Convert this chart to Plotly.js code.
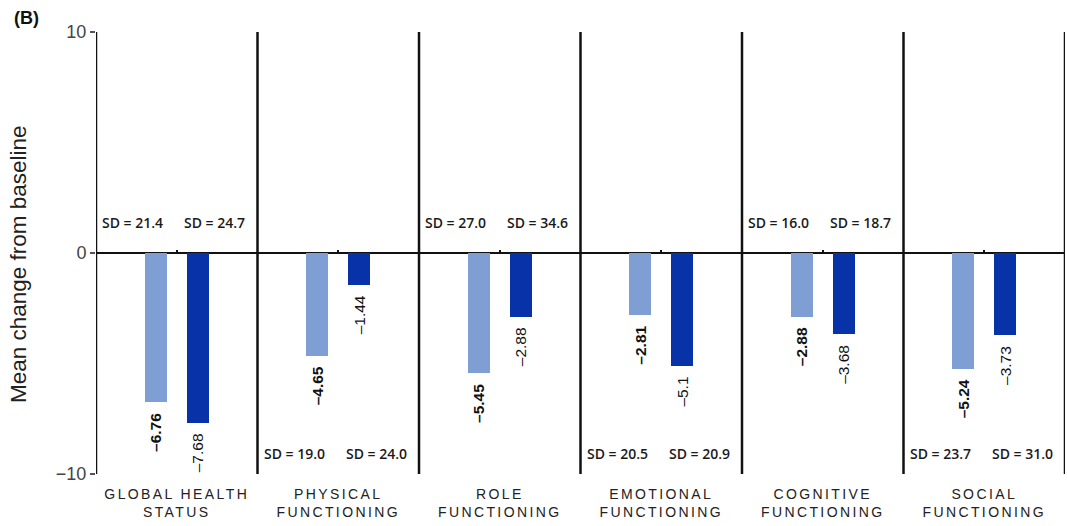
<!DOCTYPE html>
<html>
<head>
<meta charset="utf-8">
<script src="https://cdn.plot.ly/plotly-3.0.1.min.js"></script>
<style>
  html, body { margin: 0; padding: 0; background: #fff; }
  #chart { width: 1068px; height: 526px; }
  .xtick text { letter-spacing: 2.4px; }
</style>
</head>
<body>
<div id="chart"></div>
<script>
// QLQ-C30 domains: mean change from baseline for two treatment groups
const domains = [
  "GLOBAL HEALTH STATUS",
  "PHYSICAL FUNCTIONING",
  "ROLE FUNCTIONING",
  "EMOTIONAL FUNCTIONING",
  "COGNITIVE FUNCTIONING",
  "SOCIAL FUNCTIONING"
];
const domainLabels = [
  "GLOBAL HEALTH<br>STATUS",
  "PHYSICAL<br>FUNCTIONING",
  "ROLE<br>FUNCTIONING",
  "EMOTIONAL<br>FUNCTIONING",
  "COGNITIVE<br>FUNCTIONING",
  "SOCIAL<br>FUNCTIONING"
];
const meanLight = [-6.76, -4.65, -5.45, -2.81, -2.88, -5.24];
const meanDark  = [-7.68, -1.44, -2.88, -5.1, -3.68, -3.73];
const sdLight = [21.4, 19.0, 27.0, 20.5, 16.0, 23.7];
const sdDark  = [24.7, 24.0, 34.6, 20.9, 18.7, 31.0];
const yTicks = [10, 0, -10];

// value label: en dash for minus, trailing en space keeps it clear of the bar end
const fmt = v => String(v).replace("-", "\u2013") + "\u2002";
const FONT = "Liberation Sans, Arial, sans-serif";
const SD_FONT = "Open Sans, Liberation Sans, sans-serif";
const BAR_W = 0.136;
const HALF_SEP = 0.13;

const lightTrace = {
  type: "bar",
  x: domains,
  y: meanLight,
  width: BAR_W,
  offset: -HALF_SEP - BAR_W / 2,
  marker: { color: "#7f9fd4" },
  text: meanLight.map(fmt),
  textposition: "outside",
  textangle: -90,
  constraintext: "none",
  cliponaxis: false,
  textfont: { family: FONT, size: 15.5, color: "#111", weight: "bold" },
  hoverinfo: "skip",
  showlegend: false
};
const darkTrace = {
  type: "bar",
  x: domains,
  y: meanDark,
  width: BAR_W,
  offset: HALF_SEP - BAR_W / 2,
  marker: { color: "#0832a8" },
  text: meanDark.map(fmt),
  textposition: "outside",
  textangle: -90,
  constraintext: "none",
  cliponaxis: false,
  textfont: { family: FONT, size: 15.5, color: "#111" },
  hoverinfo: "skip",
  showlegend: false
};

// Panel separators between domains
const shapes = [];
for (let i = 0; i <= domains.length; i++) {
  shapes.push({
    type: "line", xref: "x", yref: "paper",
    x0: i - 0.5, x1: i - 0.5, y0: 0, y1: 1,
    line: { color: "#111", width: 2.5 }
  });
}

// SD labels: alternate above the zero line and near the bottom
const annotations = [];
domains.forEach((d, i) => {
  const yPos = i % 2 === 0 ? 1.4 : -9.05;
  [[sdLight[i], -44], [sdDark[i], 38]].forEach(([sd, dx]) => {
    annotations.push({
      x: d, y: yPos, xref: "x", yref: "y",
      xshift: dx, showarrow: false,
      text: "SD = " + sd.toFixed(1),
      font: { family: SD_FONT, size: 14, color: "#1a1a1a", weight: 600 }
    });
  });
});
annotations.push({
  xref: "paper", yref: "paper", x: -0.0867, y: 1.0317,
  xanchor: "left", yanchor: "middle", showarrow: false,
  text: "<b>(B)</b>",
  font: { family: FONT, size: 18, color: "#111" }
});
// y-axis title
annotations.push({
  xref: "paper", yref: "paper", x: -0.0805, y: 0.475,
  xanchor: "center", yanchor: "middle", showarrow: false,
  textangle: -90,
  text: "Mean change from baseline",
  font: { family: FONT, size: 22.5, color: "#222" }
});

const layout = {
  width: 1068, height: 526,
  margin: { l: 96, r: 3, t: 32, b: 52 },
  paper_bgcolor: "#fff", plot_bgcolor: "#fff",
  bargap: 0,
  xaxis: {
    type: "category",
    categoryarray: domains,
    range: [-0.5, domains.length - 0.5],
    tickvals: domains,
    ticktext: domainLabels,
    ticks: "",
    showgrid: false, showline: false, zeroline: false,
    tickfont: { family: FONT, size: 14, color: "#222" },
    ticklabelstandoff: 10
  },
  xaxis2: {
    type: "category",
    overlaying: "x",
    anchor: "free",
    position: 0.5,
    categoryarray: domains,
    range: [-0.5, domains.length - 0.5],
    tickvals: domains,
    ticks: "inside", ticklen: 3, tickwidth: 2, tickcolor: "#111",
    showticklabels: false, showgrid: false, showline: false, zeroline: false
  },
  yaxis: {
    range: [-10, 10],
    tickvals: yTicks,
    ticktext: yTicks.map(v => String(v).replace("-", "\u2212")),
    ticks: "outside", ticklen: 5, tickwidth: 1.5, tickcolor: "#555",
    tickfont: { family: FONT, size: 18, color: "#444" },
    showgrid: false, showline: false,
    zeroline: true, zerolinecolor: "#111", zerolinewidth: 2
  },
  shapes: shapes,
  annotations: annotations
};

// invisible trace to activate the tick axis on the zero line
const tickTrace = {
  type: "scatter", x: domains, y: meanLight, xaxis: "x2",
  mode: "markers", marker: { opacity: 0 }, hoverinfo: "skip", showlegend: false
};

Plotly.newPlot("chart", [lightTrace, darkTrace, tickTrace], layout, { staticPlot: true });
</script>
</body>
</html>
